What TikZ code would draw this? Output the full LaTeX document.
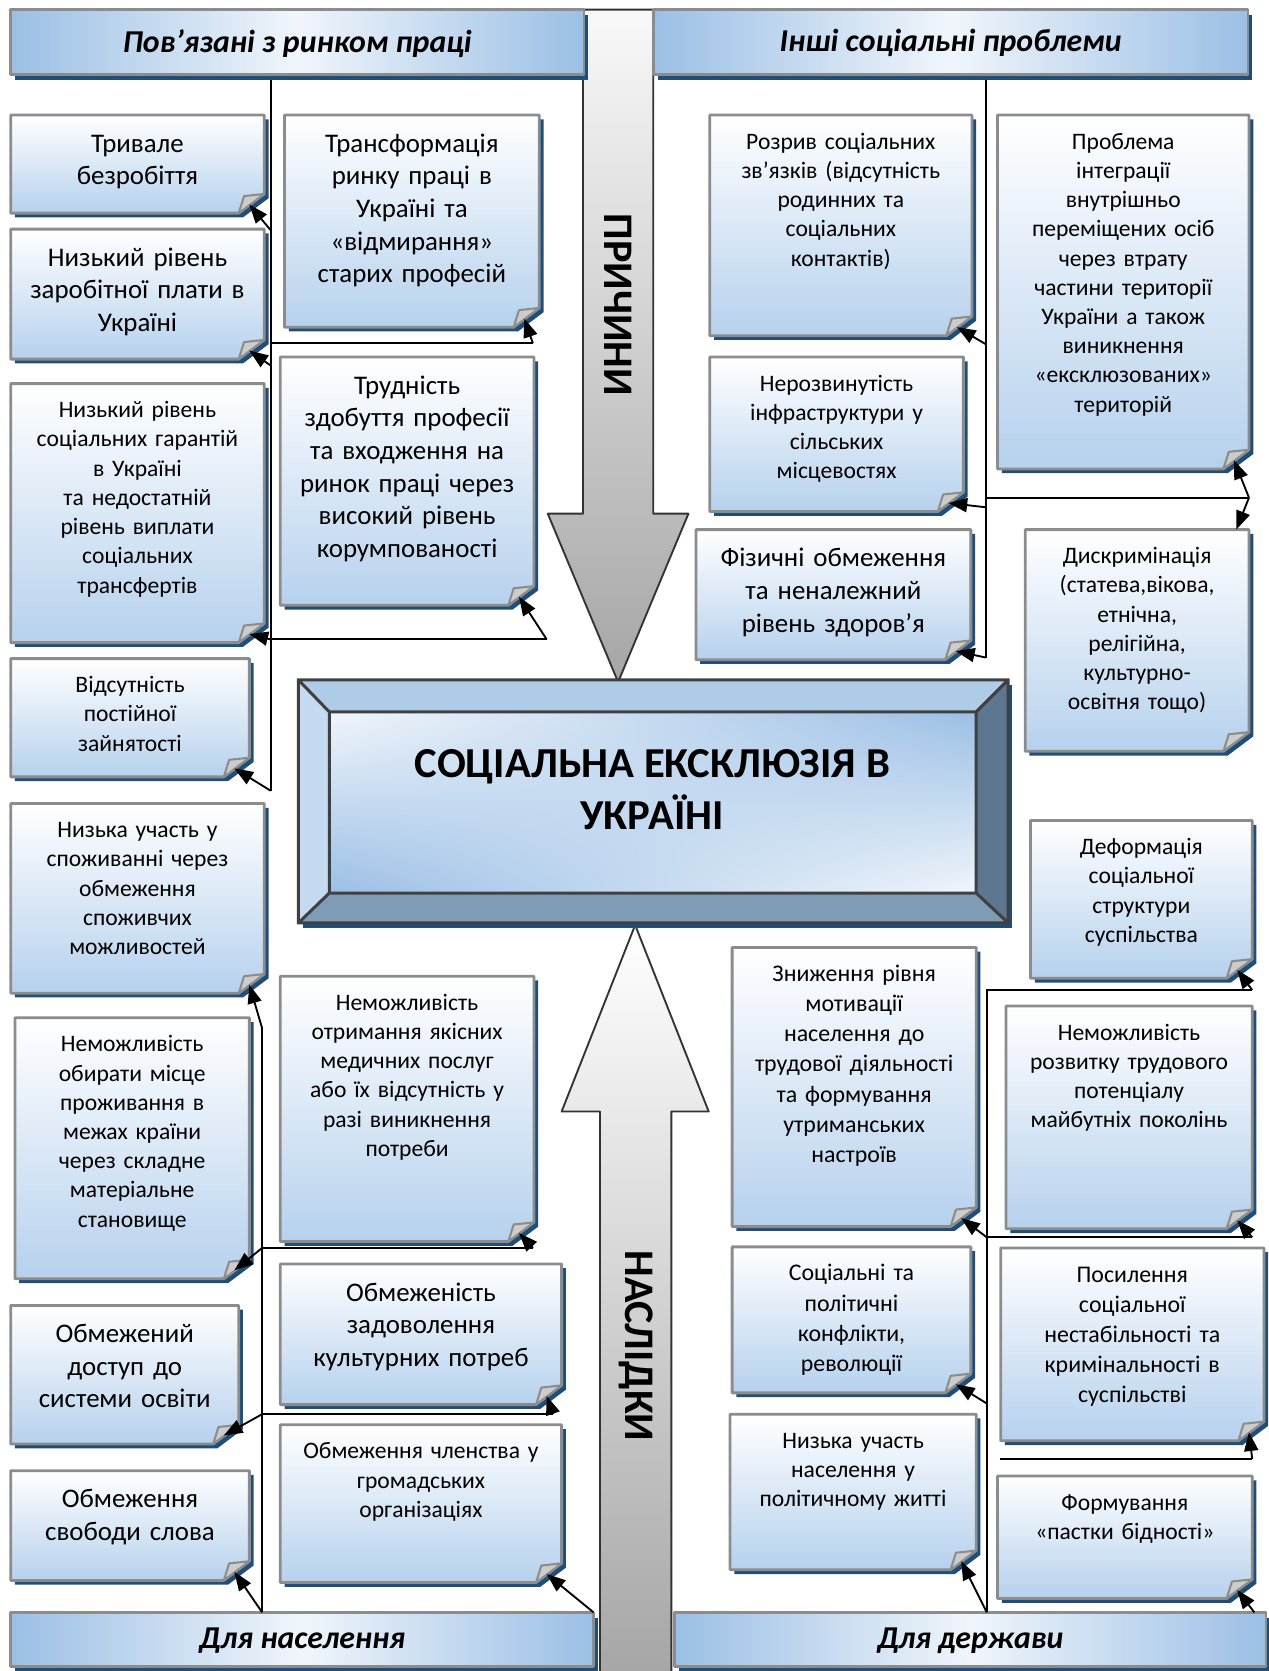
\documentclass[tikz,border=0pt]{standalone}
\usepackage{fontspec}
\setmainfont{Carlito}
\usetikzlibrary{arrows.meta,shadings}

\definecolor{cardblue}{RGB}{182,209,237}
\definecolor{shadowblue}{RGB}{31,78,121}
\definecolor{edgegrey}{RGB}{140,140,140}
\definecolor{headblue}{RGB}{155,191,229}
\definecolor{bevtop}{RGB}{174,203,232}
\definecolor{bevleft}{RGB}{196,218,240}
\definecolor{bevright}{RGB}{94,119,145}
\definecolor{bevbottom}{RGB}{127,156,183}
\definecolor{darkedge}{RGB}{64,64,64}

% card with folded corner: [font style]{name}{x1}{y1}{x2}{y2}{text}
\newcommand{\notecard}[7][txtS]{%
  \fill[shadowblue] ({#3+4},{#4+4}) -- ({#5+4},{#4+4}) -- ({#5+4},{#6+4-18}) -- ({#5+4-24},{#6+4}) -- ({#3+4},{#6+4}) -- cycle;
  \shade[top color=white, bottom color=cardblue] (#3,#4) -- (#5,#4) -- (#5,{#6-18}) -- ({#5-24},#6) -- (#3,#6) -- cycle;
  \draw[cardedge] (#3,#4) -- (#5,#4) -- (#5,{#6-18}) -- ({#5-24},#6) -- (#3,#6) -- cycle;
  \filldraw[cardfold] ({#5-24},#6) -- ({#5-19},{#6-16}) -- (#5,{#6-18}) -- cycle;
  \pgfmathsetmacro\cardw{(#5-#3-6)*0.02}
  \node[#1, text width=\cardw cm] (#2) at ({(#3+#5)/2},{#4+32}) {#7};
  \coordinate (#2c) at ({#5-14},{#6-8});
  \coordinate (#2t) at ({#5-12},#4);
}

% header bar: {name}{x1}{y1}{x2}{y2}{text}
\newcommand{\headbar}[6]{%
  \fill[shadowblue] ({#2+4},{#3+5}) rectangle ({#4+4},{#5+5});
  \shade[left color=headblue, right color=headblue, middle color=white!85!headblue] (#2,#3) rectangle (#4,#5);
  \draw[cardedge] (#2,#3) rectangle (#4,#5);
  \node[headtext] (#1) at ({(#2+#4)/2},{(#3+#5)/2+1}) {#6};
}

\begin{document}
\begin{tikzpicture}[x=0.02cm, y=-0.02cm,
    cardedge/.style={draw=edgegrey, line width=1.5pt, line join=round},
    cardfold/.style={fill=gray!40, draw=edgegrey, line width=1.1pt, line join=round},
    txtS/.style={font=\fontsize{12.6}{15.6}\selectfont, align=center, anchor=base, inner sep=0pt},
    txtM/.style={font=\fontsize{12.75}{16.1}\selectfont, align=center, anchor=base, inner sep=0pt},
    txtL/.style={font=\fontsize{14.35}{17.4}\selectfont, align=center, anchor=base, inner sep=0pt, yshift=-1.7pt},
    headtext/.style={font=\fontsize{17}{20}\selectfont\bfseries\itshape, inner sep=0pt},
    bigword/.style={font=\fontsize{22.5}{26}\selectfont\bfseries, rotate=-90, inner sep=0pt},
    wire/.style={line width=1pt},
    arr/.style={line width=1pt, -{Triangle[length=10pt,width=7.5pt]}}]
  \useasboundingbox (0,0) rectangle (1190,1568);

  % big arrows
  \shadedraw[top color=gray!5, bottom color=gray!70, draw=gray!40!black, line width=1pt, line join=round]
    (547,9) -- (613,9) -- (613,482) -- (646,482) -- (580,640) -- (514,482) -- (547,482) -- cycle;
  \node[bigword] (causes) at (580,286) {ПРИЧИНИ};
  \shadedraw[top color=white, bottom color=gray!70, draw=gray!40!black, line width=1pt, line join=round]
    (596,868) -- (665,1043) -- (630,1043) -- (630,1572) -- (563,1572) -- (563,1043) -- (527,1043) -- cycle;
  \node[bigword] (effects) at (597,1263) {НАСЛІДКИ};

  % central box
  \fill[shadowblue] (284,643) rectangle (950,871);
  \fill[bevtop] (280,638) -- (946,638) -- (916,668) -- (309,668) -- cycle;
  \fill[bevleft] (280,638) -- (309,668) -- (309,838) -- (280,866) -- cycle;
  \fill[bevright] (946,638) -- (946,866) -- (916,838) -- (916,668) -- cycle;
  \fill[bevbottom] (280,866) -- (309,838) -- (916,838) -- (946,866) -- cycle;
  \shade[upper right=headblue, lower left=headblue, upper left=white!85!headblue, lower right=white!85!headblue] (309,668) rectangle (916,838);
  \draw[darkedge, line width=1.6pt] (280,638) rectangle (946,866) (309,668) rectangle (916,838)
    (280,638) -- (309,668) (946,638) -- (916,668) (280,866) -- (309,838) (946,866) -- (916,838);
  \node[font=\fontsize{22.8}{27.8}\selectfont\bfseries, align=center] (core) at (612,741) {СОЦІАЛЬНА ЕКСКЛЮЗІЯ В\\УКРАЇНІ};

  % headers
  \headbar{labour}{10}{9}{548}{70}{Пов’язані з ринком праці}
  \headbar{other}{613}{9}{1171}{70}{Інші соціальні проблеми}
  \headbar{people}{10}{1513}{557}{1564}{Для населення}
  \headbar{state}{633}{1513}{1188}{1564}{Для держави}

  % causes: labour market
  \notecard[txtL]{A1}{10}{108}{248}{200}{Тривале\\безробіття}
  \notecard[txtL]{A2}{10}{215}{248}{337}{Низький рівень\\заробітної плати в\\Україні}
  \notecard{A3}{10}{360}{248}{603}{Низький рівень\\соціальних гарантій\\в Україні\\та недостатній\\рівень виплати\\соціальних\\трансфертів}
  \notecard{A4}{10}{618}{234}{729}{Відсутність\\постійної\\зайнятості}
  \notecard[txtL]{B1}{267}{108}{506}{307}{Трансформація\\ринку праці в\\Україні та\\«відмирання»\\старих професій}
  \notecard[txtL]{B2}{263}{335}{501}{568}{Трудність\\здобуття професії\\та входження на\\ринок праці через\\високий рівень\\корумпованості}

  % causes: other social problems
  \notecard{C1}{666}{108}{912}{315}{Розрив соціальних\\зв’язків (відсутність\\родинних та\\соціальних\\контактів)}
  \notecard{C2}{666}{335}{904}{480}{Нерозвинутість\\інфраструктури у\\сільських\\місцевостях}
  \notecard[txtL]{C3}{653}{497}{911}{619}{Фізичні обмеження\\та неналежний\\рівень здоров’я}
  \notecard{D1}{936}{108}{1172}{440}{Проблема\\інтеграції\\внутрішньо\\переміщених осіб\\через втрату\\частини території\\України а також\\виникнення\\«ексклюзованих»\\територій}
  \notecard{D2}{962}{497}{1172}{705}{Дискримінація\\(статева,вікова,\\етнічна,\\релігійна,\\культурно-\\освітня тощо)}

  % effects: population
  \notecard{E1}{10}{754}{248}{932}{Низька участь у\\споживанні через\\обмеження\\споживчих\\можливостей}
  \notecard{E2}{14}{955}{234}{1200}{Неможливість\\обирати місце\\проживання в\\межах країни\\через складне\\матеріальне\\становище}
  \notecard[txtL]{E3}{10}{1225}{224}{1355}{Обмежений\\доступ до\\системи освіти}
  \notecard[txtL]{E4}{10}{1380}{234}{1483}{Обмеження\\свободи слова}
  \notecard{F1}{263}{916}{501}{1165}{Неможливість\\отримання якісних\\медичних послуг\\або їх відсутність у\\разі виникнення\\потреби}
  \notecard[txtL]{F2}{263}{1186}{527}{1318}{Обмеженість\\задоволення\\культурних потреб}
  \notecard{F3}{263}{1337}{527}{1485}{Обмеження членства у\\громадських\\організаціях}

  % effects: state
  \notecard{G0}{967}{770}{1175}{918}{Деформація\\соціальної\\структури\\суспільства}
  \notecard[txtM]{G1}{687}{889}{916}{1151}{Зниження рівня\\мотивації\\населення до\\трудової діяльності\\та формування\\утриманських\\настроїв}
  \notecard{G2}{944}{944}{1175}{1153}{Неможливість\\розвитку трудового\\потенціалу\\майбутніх поколінь}
  \notecard[txtM]{G3}{687}{1170}{911}{1307}{Соціальні та\\політичні\\конфлікти,\\революції}
  \notecard[txtM]{G4}{939}{1171}{1186}{1352}{Посилення\\соціальної\\нестабільності та\\кримінальності в\\суспільстві}
  \notecard{G5}{685}{1327}{916}{1473}{Низька участь\\населення у\\політичному житті}
  \notecard{G6}{936}{1385}{1175}{1500}{Формування\\«пастки бідності»}

  % connector points
  \coordinate (lt0) at (254,75);
  \coordinate (lt1) at (254,216);
  \coordinate (lt3) at (254,322);
  \coordinate (lt2) at (254,343);
  \coordinate (lt4) at (254,600);
  \coordinate (lt5) at (254,742);
  \coordinate (bt1) at (500,322);
  \coordinate (bt2) at (513,600);
  \coordinate (rt0) at (925,75);
  \coordinate (rt1) at (925,323);
  \coordinate (rt2) at (925,467);
  \coordinate (rt3) at (925,476);
  \coordinate (rt4) at (925,617);
  \coordinate (rd) at (1172,467);
  \coordinate (lb0) at (246,965);
  \coordinate (lb1) at (246,1171);
  \coordinate (lb2) at (246,1327);
  \coordinate (lb3) at (246,1513);
  \coordinate (fb1) at (500,1171);
  \coordinate (fb2) at (519,1327);
  \coordinate (fb3) at (557,1513);
  \coordinate (rb0) at (926,929);
  \coordinate (rb1) at (926,1161);
  \coordinate (rb2) at (926,1317);
  \coordinate (rb3) at (926,1513);
  \coordinate (gr0) at (1175,929);
  \coordinate (gr1) at (1175,1161);
  \coordinate (gh0) at (938,1369);
  \coordinate (gr2) at (1175,1369);
  \coordinate (gr3) at (1177,1513);

  % trunk lines
  \draw[wire] (lt0) -- (lt5);
  \draw[wire] (lt3) -- (bt1);
  \draw[wire] (lt4) -- (bt2);
  \draw[wire] (rt0) -- (rt4);
  \draw[wire] (rt2) -- (rd);
  \draw[wire] (lb0) -- (lb3);
  \draw[wire] (lb1) -- (fb1);
  \draw[wire] (lb2) -- (fb2);
  \draw[wire] (gr0) -- (rb0) -- (rb3);
  \draw[wire] (rb1) -- (gr1);
  \draw[wire] (gh0) -- (gr2);

  % arrows to the cards
  \draw[arr] (lt1) -- (A1c);
  \draw[arr] (lt2) -- (A2c);
  \draw[arr] (bt1) -- (B1c);
  \draw[arr] (lt4) -- (A3c);
  \draw[arr] (bt2) -- (B2c);
  \draw[arr] (lt5) -- (A4c);
  \draw[arr] (rt1) -- (C1c);
  \draw[arr] (rt3) -- (C2c);
  \draw[arr] (rt4) -- (C3c);
  \draw[arr] (rd) -- (D1c);
  \draw[arr] (rd) -- (D2t);
  \draw[arr] (lb0) -- (E1c);
  \draw[arr] (lb1) -- (E2c);
  \draw[arr] (fb1) -- (F1c);
  \draw[arr] (lb2) -- (E3c);
  \draw[arr] (fb2) -- (F2c);
  \draw[arr] (lb3) -- (E4c);
  \draw[arr] (fb3) -- (F3c);
  \draw[arr] (gr0) -- (G0c);
  \draw[arr] (rb1) -- (G1c);
  \draw[arr] (gr1) -- (G2c);
  \draw[arr] (rb2) -- (G3c);
  \draw[arr] (gr2) -- (G4c);
  \draw[arr] (rb3) -- (G5c);
  \draw[arr] (gr3) -- (G6c);
\end{tikzpicture}
\end{document}
